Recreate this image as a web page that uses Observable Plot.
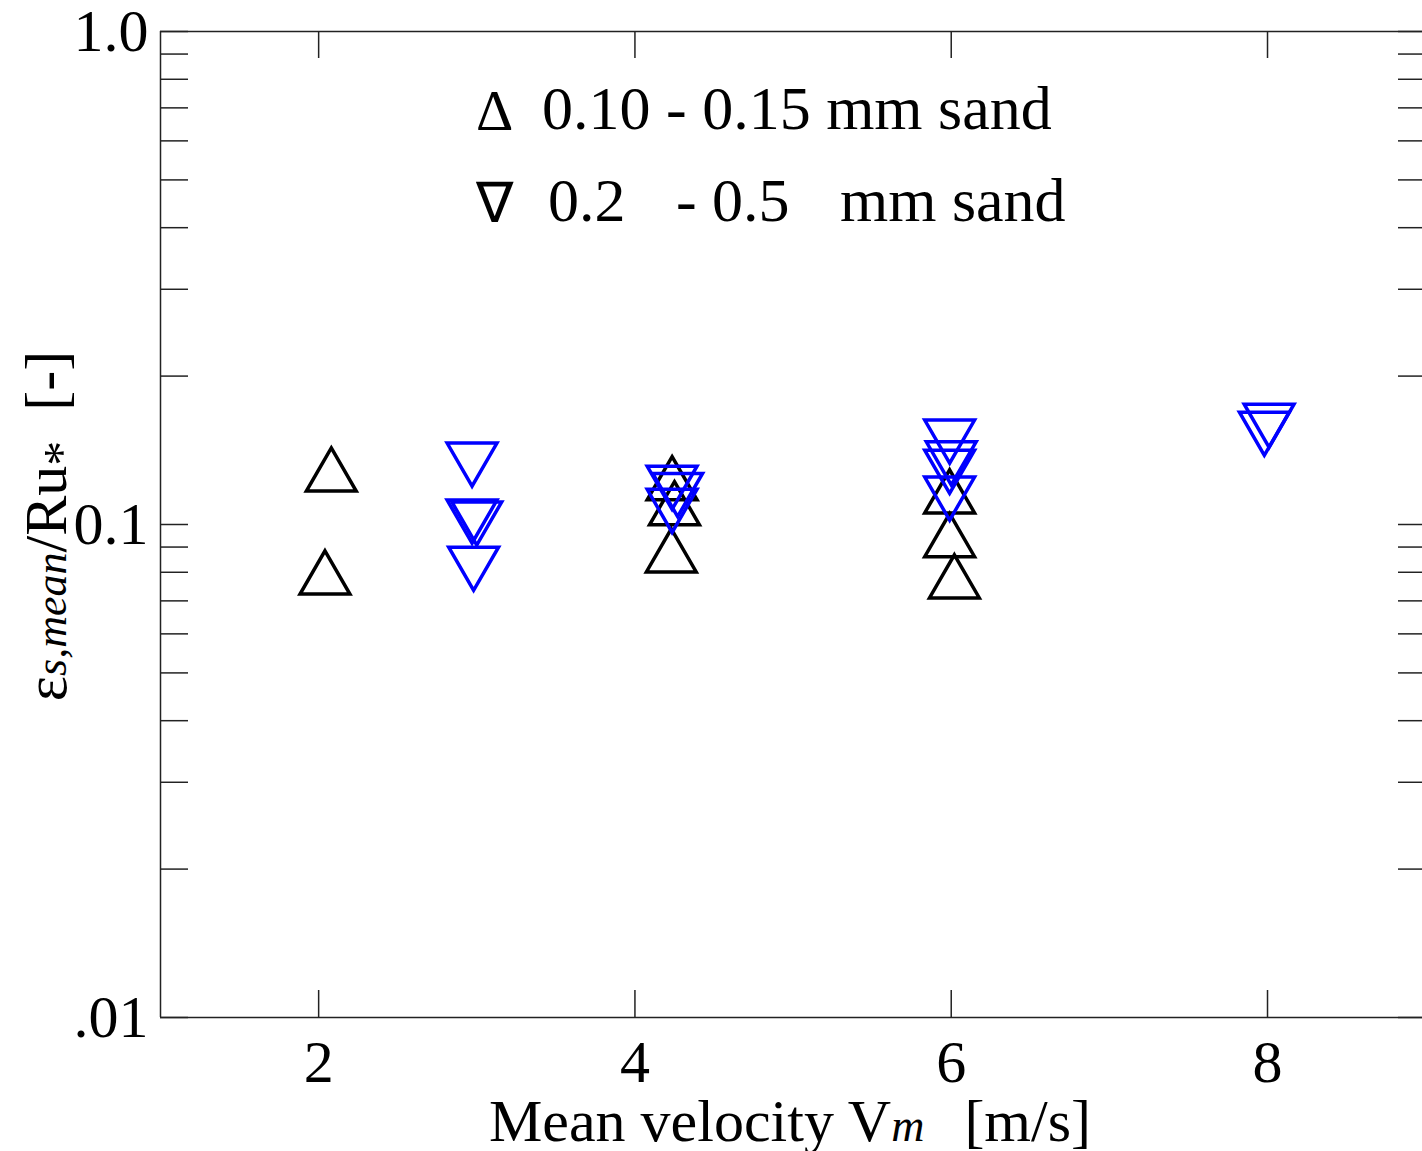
<!DOCTYPE html>
<html><head><meta charset="utf-8">
<script src="https://cdn.jsdelivr.net/npm/d3@7"></script>
<script src="https://cdn.jsdelivr.net/npm/@observablehq/plot@0.6"></script>
<style>
body{margin:0;background:#fff;}
#chart svg{display:block;}
</style></head><body><div id="chart"></div>
<script>
// 0.10 - 0.15 mm sand (black, up triangles)
const fineVm  = [2.08, 2.04, 4.235, 4.25, 4.23, 5.99, 5.99, 6.02];
const fineEps = [0.125, 0.0773, 0.120, 0.1068, 0.0857, 0.1129, 0.092, 0.0759];
// 0.2 - 0.5 mm sand (blue, down triangles)
const coarseVm  = [2.97, 2.97, 3.0, 2.98, 4.235, 4.27, 4.235, 5.99, 6.0, 5.99, 5.99, 8.01, 7.98];
const coarseEps = [0.1368, 0.1048, 0.1039, 0.0841, 0.1228, 0.1187, 0.1102, 0.1523, 0.1376, 0.1323, 0.1167, 0.164, 0.158];

const xTicks = [2, 4, 6, 8];
const yMajor = [0.01, 0.1, 1];
const yMajorLabels = [".01", "0.1", "1.0"];
const yMinor = [0.02,0.03,0.04,0.05,0.06,0.07,0.08,0.09,0.2,0.3,0.4,0.5,0.6,0.7,0.8,0.9];

const legendSymbols = ["\u0394", "\u2207"];
const legendLine1 = ["0.10 - 0.15 mm sand"];
const legendLine2 = ["0.2", "-", "0.5", "mm sand"];

const W = 1422, H = 1151;
const mL = 160, mT = 31, mR = 0, mB = 134;
const plotW = W - mL - mR, plotH = H - mT - mB;
const axisColor = "#222";
const serif = "'Liberation Serif', 'Times New Roman', serif";

const fine = fineVm.map((x, i) => ({x, y: fineEps[i]}));
const coarse = coarseVm.map((x, i) => ({x, y: coarseEps[i]}));

const sqrt3 = Math.sqrt(3);
const triDown = {draw(ctx, size) {
  const y = Math.sqrt(size / (sqrt3 * 3));
  ctx.moveTo(0, 2 * y);
  ctx.lineTo(-sqrt3 * y, -y);
  ctx.lineTo(sqrt3 * y, -y);
  ctx.closePath();
}};

const allY = [...yMajor, ...yMinor];

const chart = Plot.plot({
  width: W, height: H,
  marginLeft: mL, marginTop: mT, marginRight: mR, marginBottom: mB,
  style: {fontFamily: serif, background: "white", color: "black"},
  x: {domain: [1, 8.98]},
  y: {type: "log", domain: [0.01, 1]},
  marks: [
    Plot.ruleY(allY, {stroke: axisColor, strokeWidth: 1.5, insetRight: plotW - 28}),
    Plot.ruleY(allY, {stroke: axisColor, strokeWidth: 1.5, insetLeft: plotW - 24}),
    Plot.ruleX(xTicks, {stroke: axisColor, strokeWidth: 1.5, insetTop: plotH - 27}),
    Plot.ruleX(xTicks, {stroke: axisColor, strokeWidth: 1.5, insetBottom: plotH - 27}),
    Plot.ruleX([1], {stroke: axisColor, strokeWidth: 1.5}),
    Plot.ruleY([0.01, 1], {stroke: axisColor, strokeWidth: 1.5}),
    Plot.axisY({ticks: yMajor, tickFormat: d => yMajorLabels[yMajor.indexOf(d)], tickSize: 0, tickPadding: 12, fontSize: 60, label: null}),
    Plot.axisX({ticks: xTicks, tickSize: 0, tickPadding: 22, fontSize: 60, label: null}),
    Plot.dot(fine, {x: "x", y: "y", symbol: "triangle", r: 18.5, fill: "none", stroke: "black", strokeWidth: 3.5, strokeLinejoin: "miter"}),
    Plot.dot(coarse, {x: "x", y: "y", symbol: triDown, r: 18.5, fill: "none", stroke: "#0000ff", strokeWidth: 3.5, strokeLinejoin: "miter"})
  ]
});
document.getElementById("chart").appendChild(chart);

const svg = d3.select(chart);
// x-axis title
const xt = svg.append("text").attr("x", 489).attr("y", 1141)
  .attr("text-anchor", "start")
  .attr("font-family", serif).attr("font-size", 60).attr("fill", "black")
  .style("white-space", "pre");
xt.append("tspan").text("Mean velocity V");
xt.append("tspan").attr("font-style", "italic").attr("font-size", 46).text("m");
xt.append("tspan").attr("dx", 10).text("  [m/s]");

// y-axis title
const yt = svg.append("text").attr("transform", "translate(66,526) rotate(-90)")
  .attr("text-anchor", "middle")
  .attr("font-family", serif).attr("font-size", 60).attr("fill", "black")
  .style("white-space", "pre");
yt.append("tspan").text("\u03b5");
yt.append("tspan").attr("font-style", "italic").attr("font-size", 44).text("s,mean");
yt.append("tspan").text("/Ru");
yt.append("tspan").attr("font-size", 50).attr("dy", 12).text("*");
yt.append("tspan").attr("dy", -12).text("  [-]");

// legend
const lg = svg.append("g").attr("font-family", serif).attr("fill", "black").attr("text-anchor", "start");
lg.append("text").attr("x", 476).attr("y", 130).attr("font-size", 58).text(legendSymbols[0]);
lg.append("text").attr("x", 476).attr("y", 222).attr("font-size", 56).text(legendSymbols[1]);
lg.append("text").attr("x", 542).attr("y", 129).attr("font-size", 62).text(legendLine1[0]);
const l2x = [548, 676, 712, 840];
legendLine2.forEach((t, i) => lg.append("text").attr("x", l2x[i]).attr("y", 221).attr("font-size", 62).text(t));
</script></body></html>
